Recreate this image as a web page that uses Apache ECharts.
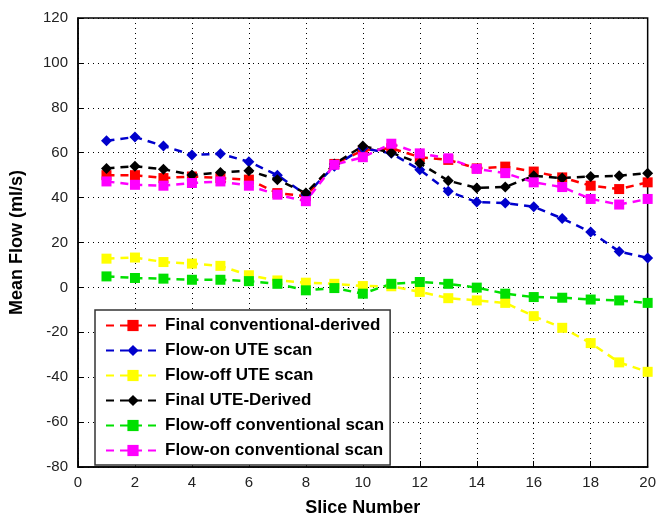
<!DOCTYPE html>
<html><head><meta charset="utf-8">
<script src="https://cdn.jsdelivr.net/npm/echarts@6/dist/echarts.min.js"></script>
<style>html,body{margin:0;padding:0;background:#fff}#c{width:659px;height:522px}</style>
</head><body><div id="c"></div>
<script>
const slices = [1,2,3,4,5,6,7,8,9,10,11,12,13,14,15,16,17,18,19,20];
const finalConv   = [50,50,48.7,49.4,48.7,48,42,40.6,55,61,62,58,56.8,53,53.8,51.6,49,45.3,43.8,46.8];
const flowOnUTE   = [65.3,67,63,59,59.5,56,50,41.3,54,62,59.7,52.4,42.8,38,37.6,35.9,30.7,24.7,16,13.1];
const flowOffUTE  = [12.8,13.3,11.3,10.6,9.6,5.4,3.1,2.1,1.6,0.6,0.5,-2,-4.8,-5.8,-6.9,-12.8,-18,-24.8,-33.4,-37.6];
const finalUTE    = [53,54,52.6,50.1,51.2,52,48,42,55,63,60,55.3,47.5,44.3,44.7,49.7,48.7,49.4,49.7,50.9];
const flowOffConv = [4.9,4.2,3.9,3.4,3.4,2.8,1.6,-1.3,-0.3,-2.8,1.6,2.4,1.6,-0.1,-2.8,-4.3,-4.6,-5.4,-5.8,-6.9];
const flowOnConv  = [47.2,45.7,45.3,46.5,47.2,45.3,41.3,38.4,54.6,58,64,59.7,57.5,52.8,50.9,46.8,44.7,39.4,36.9,39.4];
const xTicks = {min:0, max:20, interval:2};
const yTicks = {min:-80, max:120, interval:20};

const defs = [
  ['Final conventional-derived', finalConv, '#ff0000', 'rect', 10],
  ['Flow-on UTE scan', flowOnUTE, '#0000cc', 'diamond', 11],
  ['Flow-off UTE scan', flowOffUTE, '#ffff00', 'rect', 10],
  ['Final UTE-Derived', finalUTE, '#000000', 'diamond', 11],
  ['Flow-off conventional scan', flowOffConv, '#00e000', 'rect', 10],
  ['Flow-on conventional scan', flowOnConv, '#ff00ff', 'rect', 10]
];
const series = defs.map(d => ({
  name: d[0], type: 'line',
  data: slices.map((s,i) => [s, d[1][i]]),
  symbol: d[3], symbolSize: d[4],
  lineStyle: {color: d[2], width: 2.5, type: [8,6]},
  itemStyle: {color: d[2]},
  emphasis: {disabled: true},
  animation: false
}));

const chart = echarts.init(document.getElementById('c'));
chart.setOption({
  animation: false,
  grid: {left: 77, right: 4, top: 18, bottom: 55, show: true, borderColor: '#000', borderWidth: 1.5},
  xAxis: {
    type: 'value', min: xTicks.min, max: xTicks.max, interval: xTicks.interval,
    name: 'Slice Number', nameLocation: 'middle', nameGap: 32,
    nameTextStyle: {fontFamily: 'Liberation Sans, Arial', fontWeight: 'bold', fontSize: 18, color: '#000'},
    axisLine: {onZero: false, lineStyle: {color: '#000', width: 1.5}},
    axisTick: {inside: true, length: 6, lineStyle: {color: '#000'}},
    axisLabel: {fontFamily: 'Liberation Sans, Arial', fontSize: 15, color: '#222', margin: 8},
    splitLine: {show: true, lineStyle: {color: '#000', type: [1,4], width: 1}}
  },
  yAxis: {
    type: 'value', min: yTicks.min, max: yTicks.max, interval: yTicks.interval,
    name: 'Mean Flow (ml/s)', nameLocation: 'middle', nameGap: 52,
    nameTextStyle: {fontFamily: 'Liberation Sans, Arial', fontWeight: 'bold', fontSize: 18, color: '#000'},
    axisLine: {onZero: false, lineStyle: {color: '#000', width: 1.5}},
    axisTick: {inside: true, length: 6, lineStyle: {color: '#000'}},
    axisLabel: {fontFamily: 'Liberation Sans, Arial', fontSize: 15, color: '#222', margin: 10},
    splitLine: {show: true, lineStyle: {color: '#000', type: [1,4], width: 1}}
  },
  legend: {
    orient: 'vertical', left: 95, top: 310,
    backgroundColor: '#fff', borderColor: '#333', borderWidth: 1.5,
    padding: [7, 6, 6, 10], itemGap: 8, itemWidth: 54, itemHeight: 14,
    textStyle: {fontFamily: 'Liberation Sans, Arial', fontWeight: 'bold', fontSize: 17, color: '#000'},
    data: defs.map(d => d[0])
  },
  series: series
});
</script></body></html>
